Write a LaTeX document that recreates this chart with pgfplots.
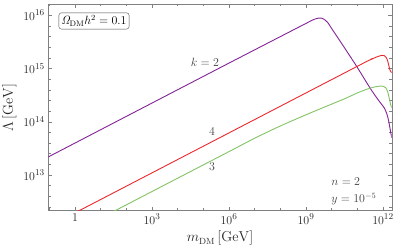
\documentclass[border=0pt]{standalone}
\usepackage{pgfplots}
\pgfplotsset{compat=1.18}
\definecolor{cpurple}{RGB}{130,35,150}
\definecolor{cred}{RGB}{235,40,45}
\definecolor{cgreen}{RGB}{130,195,100}
\begin{document}
\begin{tikzpicture}
\begin{axis}[
  xmode=log, ymode=log,
  scale only axis, width=343.4bp, height=206.7bp,
  xmin=0.0912, xmax=2.19e12, ymin=2.14e12, ymax=1.62e16,
  xtick={1,1e3,1e6,1e9,1e12},
  xticklabels={$1$,$10^{3}$,$10^{6}$,$10^{9}$,$10^{12}$},
  minor xtick={0.1,10,100,1e4,1e5,1e7,1e8,1e10,1e11},
  ytick={1e13,1e14,1e15,1e16},
  yticklabels={$10^{13}$,$10^{14}$,$10^{15}$,$10^{16}$},
  minor ytick={2.512e12,3.981e12,6.310e12,
    1.585e13,2.512e13,3.981e13,6.310e13,
    1.585e14,2.512e14,3.981e14,6.310e14,
    1.585e15,2.512e15,3.981e15,6.310e15,1.585e16},
  axis line style={gray},
  every tick/.style={gray, thin},
  major tick length=4bp, minor tick length=2.5bp,
  tick align=inside,
  xlabel={$m_{\mathrm{DM}}\,[\mathrm{GeV}]$},
  ylabel={$\Lambda\,[\mathrm{GeV}]$},
  ticklabel style={font=\fontsize{13}{15}\selectfont, black!85},
  label style={font=\fontsize{13.5}{16}\selectfont, black!85},
  clip=true,
]
\addplot[cpurple, line width=0.9bp, smooth, tension=0.4] coordinates {
(0.0794,2.11e13) (1e3,2.24e14) (1e6,1.26e15) (1e9,7.0e15) (1.585e9,7.85e15) (2.24e9,8.45e15)
(3.16e9,8.81e15) (3.98e9,8.81e15) (5.01e9,8.41e15) (7.08e9,7.24e15)
(1e10,5.62e15) (3.16e10,2.45e15) (1e11,1.047e15)
(3.16e11,4.27e14) (6.31e11,2.63e14) (1.12e12,1.82e14) (1.41e12,1.41e14)
(1.66e12,1.05e14) (1.905e12,7.24e13) (2.19e12,5.01e13)
};
\addplot[cred, line width=0.9bp, smooth, tension=0.4] coordinates {
(0.0794,1.035e12) (1e5,3.47e13) (1.585e11,1.23e15) (3.16e11,1.445e15) (5.62e11,1.64e15)
(8.91e11,1.76e15) (1.12e12,1.74e15) (1.32e12,1.62e15) (1.51e12,1.41e15)
(1.70e12,1.12e15) (1.905e12,9.12e14) (2.19e12,8.32e14)
};
\addplot[cgreen, line width=0.9bp, smooth, tension=0.4] coordinates {
(25.1,1.95e12) (1e4,8.71e12) (1e6,2.75e13) (1e7,4.90e13) (1e8,8.32e13)
(1e9,1.35e14) (1e10,2.14e14) (3.16e10,2.69e14) (1e11,3.47e14) (2.51e11,4.12e14)
(5.01e11,4.52e14) (8.91e11,4.68e14) (1.26e12,4.37e14) (1.51e12,3.72e14)
(1.74e12,2.82e14) (2.0e12,2.09e14) (2.19e12,1.82e14)
};
\node[black!75, font=\fontsize{12}{14}\selectfont] at (axis cs:1.15e5,1.32e15) {$k=2$};
\node[black!75, font=\fontsize{12}{14}\selectfont] at (axis cs:2.2e5,6.5e13) {$4$};
\node[black!75, font=\fontsize{12}{14}\selectfont] at (axis cs:2.2e5,1.41e13) {$3$};
\node[black!75, font=\fontsize{12}{14}\selectfont, anchor=west] at (axis cs:7.2e9,7.4e12) {$n=2$};
\node[black!75, font=\fontsize{12}{14}\selectfont, anchor=west] at (axis cs:7.2e9,3.55e12) {$y=10^{-5}$};
\node[draw=black!70, rounded corners=2.5pt, fill=white, inner sep=2.5pt, thin,
  font=\fontsize{12}{14}\selectfont] at (rel axis cs:0.133,0.918) {$\mathit{\Omega}_{\mathrm{DM}}h^2=0.1$};
\end{axis}
\pgfresetboundingbox
\path (current axis.south west) ++(-48.3bp,-40.3bp) rectangle ++(399bp,251bp);
\end{tikzpicture}
\end{document}
